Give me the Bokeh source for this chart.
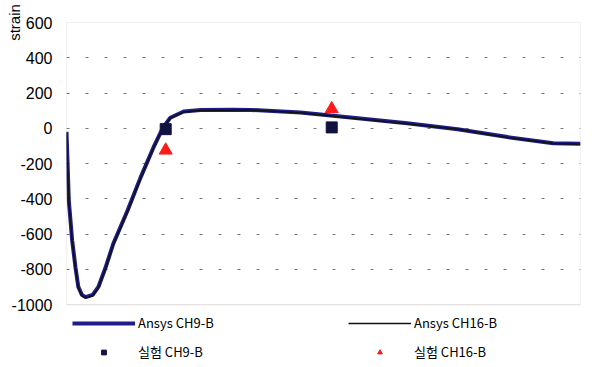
from bokeh.plotting import figure
from bokeh.models import (Range1d, FixedTicker, Legend, LegendItem, BoxAnnotation,
                          LinearAxis)
from bokeh.embed import file_html
from bokeh.resources import INLINE

# ---- data (x: arbitrary position along the member, no labels in source) ----
x_ansys = [0, 0.45, 1.1, 1.75, 2.3, 3.0, 3.7, 5.1, 6.2, 7.6, 9.1, 11.9, 14.4,
           16.9, 18.7, 20.2, 22.8, 26.1, 32.5, 35.8, 45.5, 51.4, 66.3, 76.1,
           85.8, 94.7, 100]
ansys_ch9 = [-20, -410, -635, -790, -900, -945, -958, -945, -900, -790, -655,
             -465, -280, -110, 0, 60, 95, 103, 105, 104, 90, 72, 28, -5, -50,
             -85, -88]
ansys_ch16 = [-25, -415, -640, -795, -905, -950, -962, -950, -905, -795, -660,
              -470, -285, -112, -2, 58, 93, 101, 104, 103, 88, 70, 26, -6, -52,
              -87, -90]

x_test = [19.3, 51.6]
test_ch9 = [-5, 5]
test_ch16 = [-125, 110]

y_ticks = [-1000, -800, -600, -400, -200, 0, 200, 400, 600]
y_tick_labels = ["-1000", "-800", "-600", "-400", "-200", "0", "200", "400", "600"]

Y_MIN, Y_MAX = -1000, 600
# the frame extends below the axis minimum to hold the legend area
p = figure(width=592, height=367, output_backend="svg", toolbar_location=None,
           x_range=Range1d(0, 100), y_range=Range1d(-1357, Y_MAX),
           min_border_left=66, min_border_top=22, min_border_right=12,
           min_border_bottom=0)
p.background_fill_color = "white"
p.border_fill_color = "white"
p.outline_line_color = None

p.xaxis.visible = False
p.xgrid.visible = False

ya = p.yaxis[0]
ya.ticker = FixedTicker(ticks=y_ticks)
ya.major_label_overrides = {t: l for t, l in zip(y_ticks, y_tick_labels)}
ya.major_tick_line_color = None
ya.major_tick_out = 0
ya.major_tick_in = 0
ya.minor_tick_line_color = None
ya.axis_line_color = None
ya.major_label_text_font = "Liberation Sans"
ya.major_label_text_font_size = "16px"
ya.major_label_text_color = "black"
ya.major_label_standoff = 14

# outer axis that only carries the "strain" label near the top
lab_axis = LinearAxis(ticker=FixedTicker(ticks=[]), bounds=(Y_MIN, 588),
                      axis_label="strain", axis_label_align="end",
                      axis_line_color=None, major_tick_out=0, major_tick_in=0,
                      minor_tick_out=0, minor_tick_in=0, major_label_standoff=0,
                      axis_label_standoff=-14,
                      axis_label_text_font="Liberation Sans",
                      axis_label_text_font_style="normal",
                      axis_label_text_font_size="15px",
                      axis_label_text_color="black")
p.add_layout(lab_axis, "left")

p.ygrid.ticker = FixedTicker(ticks=y_ticks[1:-1])
p.ygrid.grid_line_color = "#777777"
p.ygrid.grid_line_dash = "3 16"
p.ygrid.grid_line_width = 1

# plot-area box
p.add_layout(BoxAnnotation(left=0, right=100, bottom=Y_MIN, top=Y_MAX,
                           fill_alpha=0, line_color="#a89c9c", line_width=1.2))

r9 = p.line(x_ansys, ansys_ch9, line_color="#1e1e86", line_width=4)
r16 = p.line(x_ansys, ansys_ch16, line_color="#111111", line_width=1.5)
s9 = p.scatter(x_test, test_ch9, marker="square", size=11,
               fill_color="#121240", line_color="#121240")
s16 = p.scatter(x_test, test_ch16, marker="triangle", size=13,
                fill_color="#ff1a1a", line_color="#ff1a1a")

legend = Legend(items=[
    LegendItem(label="Ansys CH9-B", renderers=[r9]),
    LegendItem(label="실험 CH9-B", renderers=[s9]),
    LegendItem(label="Ansys CH16-B", renderers=[r16]),
    LegendItem(label="실험 CH16-B", renderers=[s16]),
], ncols=2, location=(6, 6))
legend.glyph_width = 63
legend.glyph_height = 12
legend.label_height = 12
legend.label_width = 200
legend.label_standoff = 3
legend.spacing = 10
legend.padding = 0
legend.margin = 0
legend.border_line_color = None
legend.background_fill_alpha = 0
legend.label_text_font = "Noto Sans CJK KR"
legend.label_text_font_size = "13px"
legend.label_text_color = "black"
p.add_layout(legend, "center")

open("out.html", "w").write(file_html(p, INLINE))
